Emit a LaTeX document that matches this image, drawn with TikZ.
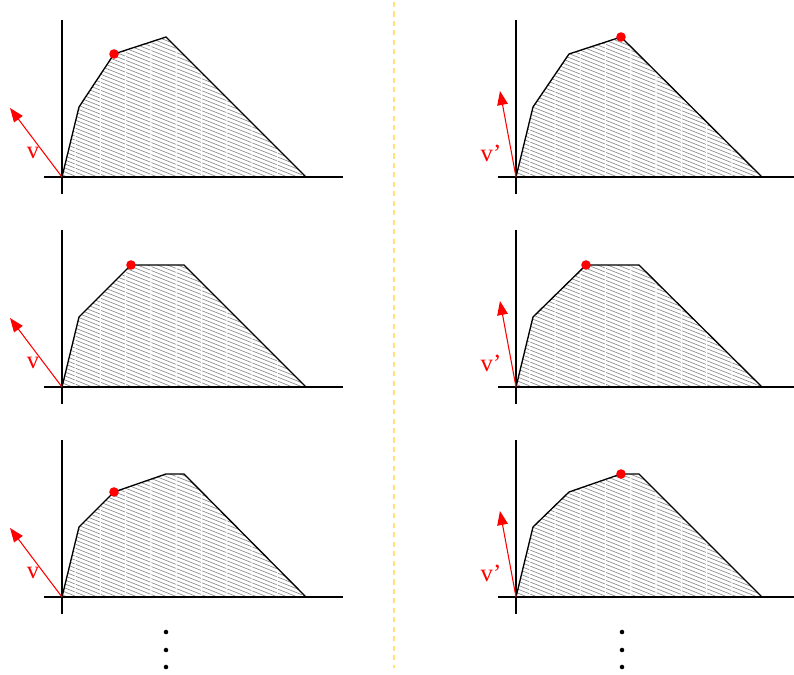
\documentclass[tikz,border=0pt]{standalone}
\usepackage{fontspec}
\setmainfont{Liberation Serif}
\usetikzlibrary{arrows.meta,calc}
\definecolor{sepcol}{HTML}{FFE37A}
\tikzset{
  axisline/.style={black, line width=0.8pt},
  hull/.style={black, line width=1pt, line join=miter},
  hatchline/.style={black!50, line width=0.45pt, dash pattern=on 19.5pt off 0.9pt},
  vecline/.style={red, line width=0.8pt, -{Triangle[length=10.5pt,width=8pt]}},
  vlabel/.style={red, inner sep=0pt, font=\fontsize{18.5}{18.5}\selectfont},
  extremept/.style={red, fill},
  ellipdot/.style={black, fill},
  separator/.style={sepcol, line width=1.1pt, dash pattern=on 3.8pt off 3.3pt}
}
% #1 origin x, #2 origin y, #3 polygon (without cycle), #4 dot, #5 arrow tip, #6 label pos, #7 label text, #8 name
\newcommand\drawpanel[8]{%
  \coordinate (#8o) at (#1,#2);
  \begin{scope}
    \clip #3 -- cycle;
    \foreach \c in {-330,-326,...,680} \draw[hatchline] (0,\c) -- (800,\c+320);
  \end{scope}
  \draw[axisline] ($(#8o)+(0,-157)$) -- ($(#8o)+(0,17)$);
  \draw[axisline] ($(#8o)+(-18,0)$) -- ($(#8o)+(281,0)$);
  \draw[hull] #3 -- cycle;
  \coordinate (#8t) at #5;
  \draw[vecline] (#8o) -- (#8t);
  \node[vlabel] (#8l) at #6 {#7};
  \fill[extremept] #4 circle[radius=3.6pt];
}
\begin{document}
\begin{tikzpicture}[x=0.75pt,y=-0.75pt]
\useasboundingbox (0,0) rectangle (794,675);
\drawpanel{62}{177}{(62,177) -- (79,107) -- (114,54) -- (166,37) -- (306,177)}{(114,54)}{(10,108)}{(33,153)}{v}{pa}
\drawpanel{516}{177}{(516,177) -- (533,107) -- (569,54) -- (621,37) -- (762,177)}{(621,37)}{(500,91)}{(491,153)}{v'}{pb}
\drawpanel{62}{387}{(62,387) -- (79,317) -- (131,265) -- (184,265) -- (306,387)}{(131,265)}{(10,318)}{(33,363)}{v}{pc}
\drawpanel{516}{387}{(516,387) -- (533,317) -- (586,265) -- (639,265) -- (762,387)}{(586,265)}{(500,301)}{(491,363)}{v'}{pd}
\drawpanel{62}{597}{(62,597) -- (79,527) -- (114,492) -- (166,474) -- (184,474) -- (306,597)}{(114,492)}{(10,528)}{(33,573)}{v}{pe}
\drawpanel{516}{597}{(516,597) -- (533,527) -- (569,492) -- (621,474) -- (639,474) -- (762,597)}{(621,474)}{(500,511)}{(491,573)}{v'}{pf}
% vertical ellipses
\foreach \yy in {632,650,667} {
  \fill[ellipdot] (166,\yy) circle[radius=1.7pt];
  \fill[ellipdot] (622,\yy) circle[radius=1.7pt];
}
% separator
\coordinate (septop) at (394,2);
\coordinate (sepbot) at (394,668);
\draw[separator] (septop) -- (sepbot);
\end{tikzpicture}
\end{document}
